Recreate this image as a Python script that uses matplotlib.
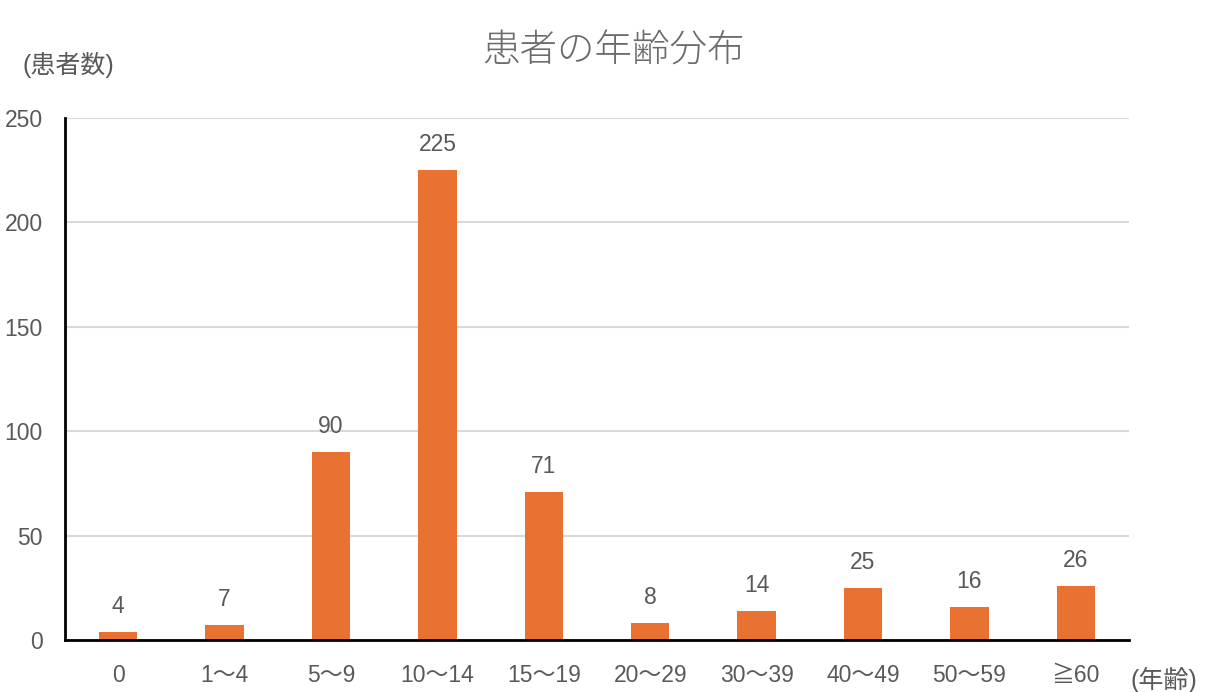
import matplotlib
matplotlib.use("Agg")
import matplotlib.pyplot as plt

plt.rcParams['font.family'] = ['Liberation Sans', 'Noto Sans CJK JP', 'DejaVu Sans']

categories = ["0", "1〜4", "5〜9", "10〜14", "15〜19", "20〜29", "30〜39", "40〜49", "50〜59", "≧60"]
counts = [4, 7, 90, 225, 71, 8, 14, 25, 16, 26]
yticks = [0, 50, 100, 150, 200, 250]

gray = "#595959"
orange = "#E97132"

fig = plt.figure(figsize=(12.28, 6.92), dpi=100)
ax = fig.add_axes([65/1228, 1-640/692, (1129-65)/1228, (640-118)/692])

x = list(range(len(categories)))
ax.bar(x, counts, width=0.36, color=orange, zorder=3)
for xi, v in zip(x, counts):
    ax.annotate(str(v), (xi, v), xytext=(0, 10), textcoords="offset points",
                ha="center", va="bottom", fontsize=16.5, color=gray)

ax.set_xlim(-0.5, len(categories) - 0.5)
ax.set_ylim(0, 250)
ax.set_yticks(yticks)
ax.set_xticks(x)
ax.set_xticklabels(categories)
ax.tick_params(axis='both', length=0, labelsize=16.5, colors=gray)
ax.tick_params(axis='x', pad=17)
ax.tick_params(axis='y', pad=16)
ax.yaxis.grid(True, color="#D9D9D9", linewidth=1.5, zorder=0)
ax.spines['top'].set_visible(False)
ax.spines['right'].set_visible(False)
ax.spines['left'].set_color('black')
ax.spines['left'].set_linewidth(2)
ax.spines['bottom'].set_color('black')
ax.spines['bottom'].set_linewidth(2)
ax.spines['bottom'].set_zorder(4)

fig.text(614/1228, 1-52/692, "患者の年齢分布", ha="center", va="center", fontsize=27,
         color="#6B6B6B", fontweight="light")
fig.text(22/1228, 1-65/692, "(患者数)", ha="left", va="center", fontsize=18, color=gray)
fig.text(1131/1228, 1-680/692, "(年齢)", ha="left", va="center", fontsize=18, color=gray)

fig.savefig("out.png", dpi=100, facecolor="white")
